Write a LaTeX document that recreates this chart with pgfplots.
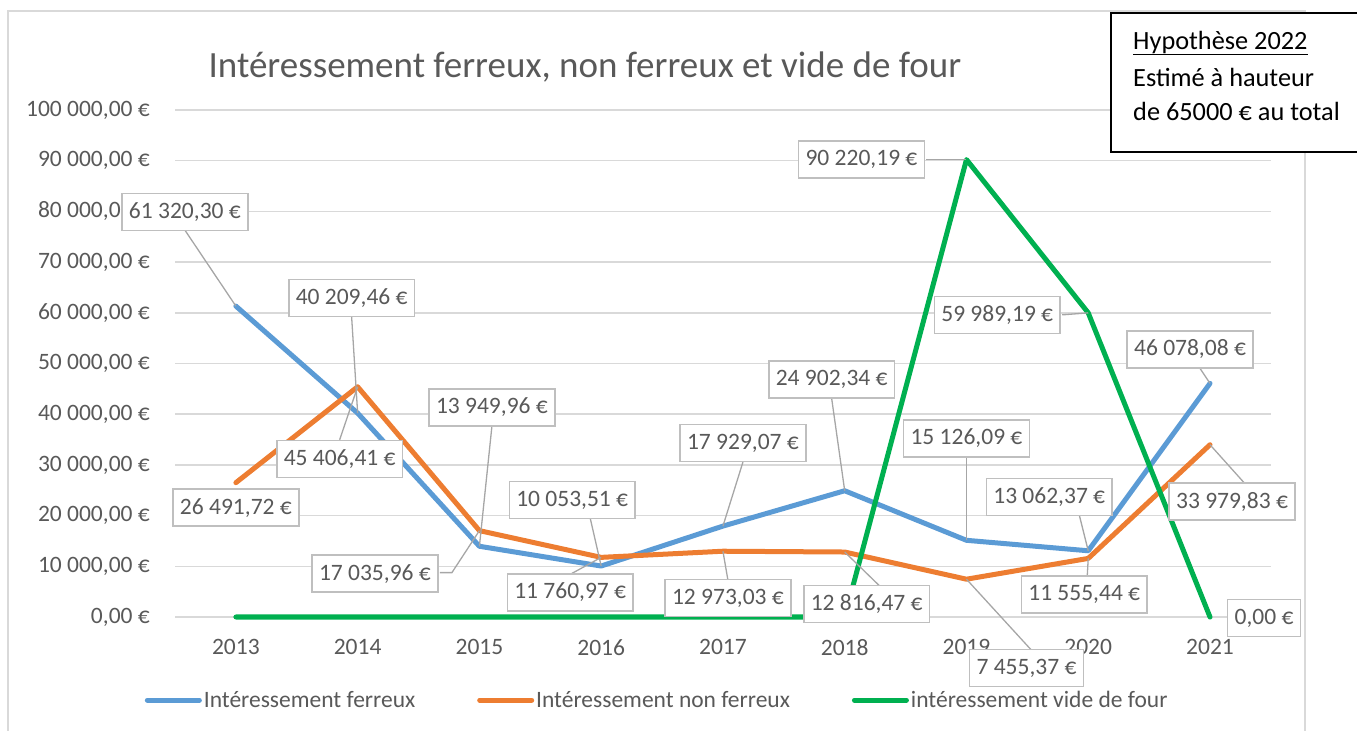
\documentclass[border=0pt]{standalone}
\usepackage{pgfplots}
\pgfplotsset{compat=1.18}
\usepackage{fontspec}
\setmainfont{Carlito}
\definecolor{cblue}{HTML}{5B9BD5}
\definecolor{corange}{HTML}{ED7D31}
\definecolor{cgreen}{HTML}{00B050}
\definecolor{cgrid}{HTML}{D9D9D9}
\definecolor{ctext}{HTML}{595959}
\definecolor{clead}{HTML}{A6A6A6}
\definecolor{cbox}{HTML}{BFBFBF}
\begin{document}
\begin{tikzpicture}[
  lbl/.style={draw=cbox, line width=1.5bp, fill=white, text=ctext, font=\fontsize{23.5bp}{28bp}\selectfont, inner xsep=7bp, inner ysep=0bp, minimum height=37bp},
  leader/.style={draw=clead, line width=1.3bp}]
\useasboundingbox (0,0) rectangle (1357bp,731bp);
\draw[cgrid, line width=1.5bp] (8bp,0) -- (8bp,720bp) -- (1305bp,720bp) -- (1305bp,0);
\begin{axis}[
  at={(175bp,114bp)}, anchor=south west,
  scale only axis, width=1096bp, height=507bp,
  xmin=2012.5, xmax=2021.5, ymin=0, ymax=100000,
  clip=false, scaled y ticks=false,
  axis line style={draw=none},
  major tick length=0pt,
  ymajorgrids, grid style={cgrid, line width=1.5bp},
  xtick={2013,2014,2015,2016,2017,2018,2019,2020,2021},
  xticklabels={2013,2014,2015,2016,2017,2018,2019,2020,2021},
  ytick={0,10000,20000,30000,40000,50000,60000,70000,80000,90000,100000},
  yticklabels={{0,00~€},{10~000,00~€},{20~000,00~€},{30~000,00~€},{40~000,00~€},{50~000,00~€},{60~000,00~€},{70~000,00~€},{80~000,00~€},{90~000,00~€},{100~000,00~€}},
  tick label style={font=\fontsize{23.5bp}{28bp}\selectfont, text=ctext},
  yticklabel style={anchor=east, inner sep=0pt, xshift=-25bp},
  xticklabel style={anchor=north, inner sep=0pt, yshift=-22bp},
  legend style={at={(0.44,-0.164)}, anchor=center, draw=none, legend columns=3,
    font=\fontsize{23.5bp}{28bp}\selectfont, text=ctext,
    /tikz/every even column/.append style={column sep=60bp}},
  legend image code/.code={\draw[#1, line width=5bp, line cap=round] (0bp,0bp) -- (52bp,0bp);},
]
\addplot[cblue, line width=5bp, line join=round, line cap=round] coordinates {
(2013,61320.30) (2014,40209.46) (2015,13949.96) (2016,10053.51) (2017,17929.07)
(2018,24902.34) (2019,15126.09) (2020,13062.37) (2021,46078.08)};
\addlegendentry{Intéressement ferreux}
\addplot[corange, line width=5bp, line join=round, line cap=round] coordinates {
(2013,26491.72) (2014,45406.41) (2015,17035.96) (2016,11760.97) (2017,12973.03)
(2018,12816.47) (2019,7455.37) (2020,11555.44) (2021,33979.83)};
\addlegendentry{Intéressement non ferreux}
\addplot[cgreen, line width=5bp, line join=round, line cap=round] coordinates {
(2013,0) (2014,0) (2015,0) (2016,0) (2017,0)
(2018,0) (2019,90220.19) (2020,59989.19) (2021,0)};
\addlegendentry{intéressement vide de four}

\draw[leader] (axis cs:2013,61320.30) -- ++(-51bp,76bp);
\node[lbl] at ([shift={(-51bp,94bp)}]axis cs:2013,61320.30) {61~320,30~€};
\draw[leader] (axis cs:2014,40209.46) -- ++(-6bp,96bp);
\node[lbl] at ([shift={(-6bp,115bp)}]axis cs:2014,40209.46) {40~209,46~€};
\draw[leader] (axis cs:2014,45406.41) -- ++(-18bp,-53bp);
\node[lbl] at ([shift={(-18bp,-72bp)}]axis cs:2014,45406.41) {45~406,41~€};
\node[lbl] at ([shift={(0bp,-25bp)}]axis cs:2013,26491.72) {26~491,72~€};
\draw[leader] (axis cs:2015,13949.96) -- ++(12.5bp,120bp);
\node[lbl] at ([shift={(12.5bp,139bp)}]axis cs:2015,13949.96) {13~949,96~€};
\draw[leader] (axis cs:2015,17035.96) -- ++(-27.5bp,-42bp) -- ++(-12bp,0bp);
\node[lbl] at ([shift={(-104.5bp,-43bp)}]axis cs:2015,17035.96) {17~035,96~€};
\draw[leader] (axis cs:2016,10053.51) -- ++(-11bp,48bp);
\node[lbl] at ([shift={(-29bp,66bp)}]axis cs:2016,10053.51) {10~053,51~€};
\draw[leader] (axis cs:2016,11760.97) -- ++(-31bp,-17bp);
\node[lbl] at ([shift={(-31bp,-35bp)}]axis cs:2016,11760.97) {11~760,97~€};
\draw[leader] (axis cs:2017,17929.07) -- ++(20bp,64bp);
\node[lbl] at ([shift={(20bp,83bp)}]axis cs:2017,17929.07) {17~929,07~€};
\draw[leader] (axis cs:2017,12973.03) -- ++(5bp,-29bp);
\node[lbl] at ([shift={(5bp,-47bp)}]axis cs:2017,12973.03) {12~973,03~€};
\draw[leader] (axis cs:2018,24902.34) -- ++(-13bp,92bp);
\node[lbl] at ([shift={(-13bp,111bp)}]axis cs:2018,24902.34) {24~902,34~€};
\draw[leader] (axis cs:2018,12816.47) -- ++(35bp,-34bp);
\node[lbl] at ([shift={(22bp,-52bp)}]axis cs:2018,12816.47) {12~816,47~€};
\draw[leader] (axis cs:2019,90220.19) -- ++(-40bp,0bp);
\node[lbl] at ([shift={(-105bp,0bp)}]axis cs:2019,90220.19) {90~220,19~€};
\draw[leader] (axis cs:2019,15126.09) -- ++(0bp,83bp);
\node[lbl] at ([shift={(0bp,102bp)}]axis cs:2019,15126.09) {15~126,09~€};
\draw[leader] (axis cs:2019,7455.37) -- ++(65bp,-71bp);
\node[lbl] at ([shift={(60bp,-89bp)}]axis cs:2019,7455.37) {7~455,37~€};
\draw[leader] (axis cs:2020,59989.19) -- ++(-26bp,-2bp);
\node[lbl] at ([shift={(-91bp,-2bp)}]axis cs:2020,59989.19) {59~989,19~€};
\draw[leader] (axis cs:2020,13062.37) -- ++(-9bp,36bp);
\node[lbl] at ([shift={(-39bp,54bp)}]axis cs:2020,13062.37) {13~062,37~€};
\draw[leader] (axis cs:2020,11555.44) -- ++(-1bp,-18bp);
\node[lbl] at ([shift={(-4bp,-36bp)}]axis cs:2020,11555.44) {11~555,44~€};
\draw[leader] (axis cs:2021,46078.08) -- ++(-10bp,15bp);
\node[lbl] at ([shift={(-20bp,34bp)}]axis cs:2021,46078.08) {46~078,08~€};
\draw[leader] (axis cs:2021,33979.83) -- ++(35bp,-39bp);
\node[lbl] at ([shift={(22bp,-57bp)}]axis cs:2021,33979.83) {33~979,83~€};
\node[lbl] at ([shift={(54bp,-1bp)}]axis cs:2021,0) {0,00~€};

\node[text=ctext, font=\fontsize{37bp}{44bp}\selectfont] at (rel axis cs:0.374,1.085) {Intéressement ferreux, non ferreux et vide de four};
\end{axis}
\draw[black, line width=1.5bp, fill=white] (1111bp,718bp) rectangle (1365bp,579bp);
\begin{scope}[every node/.style={anchor=west, inner sep=0pt, font=\fontsize{26.3bp}{31bp}\selectfont, text=black}]
\node at (1133bp,688bp) {\underline{Hypothèse 2022}};
\node at (1133bp,654bp) {Estimé à hauteur};
\node at (1133bp,620bp) {de 65000~€ au total};
\end{scope}
\end{tikzpicture}
\end{document}
